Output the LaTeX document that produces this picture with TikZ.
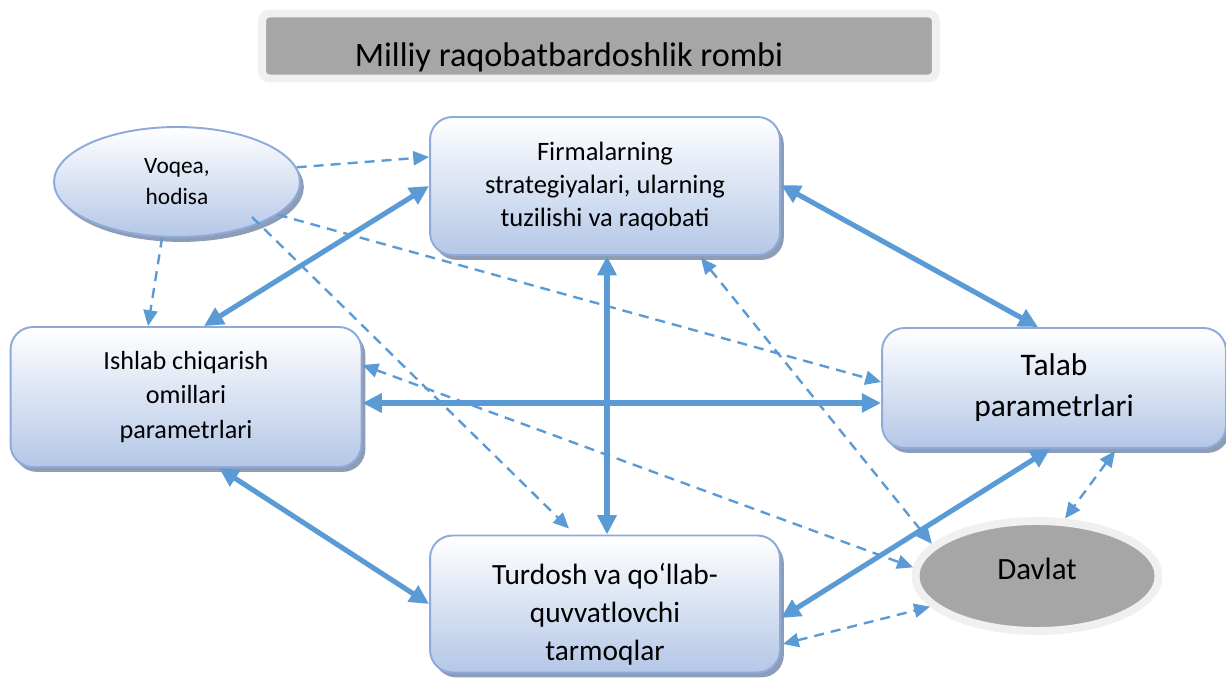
\documentclass[tikz,border=0pt]{standalone}
\usepackage{fontspec}
\setmainfont{Carlito}
\usetikzlibrary{arrows.meta,shapes.geometric,shadows,calc}
\definecolor{arrowblue}{HTML}{5B9BD5}
\definecolor{edgeblue}{HTML}{8EAADB}
\definecolor{fillblue}{HTML}{B4C7E7}
\definecolor{shadowgray}{HTML}{8E9DB6}
\definecolor{titlegray}{HTML}{A6A6A6}
\definecolor{ringgray}{HTML}{F0F0F0}

\begin{document}
\begin{tikzpicture}[x=0.02cm,y=-0.02cm,
  rbox/.style={draw=edgeblue,line width=1.1pt,rounded corners=0.45cm,top color=white,bottom color=fillblue,align=center,
    drop shadow={opacity=1,fill=shadowgray,shadow xshift=2.2pt,shadow yshift=-2.8pt}},
  oval/.style={ellipse,draw=edgeblue,line width=1.1pt,top color=white,bottom color=fillblue,align=center,
    drop shadow={opacity=1,fill=shadowgray,shadow xshift=2.2pt,shadow yshift=-2.8pt}},
  bigarrow/.style={arrowblue,line width=2.9pt,{Triangle[length=11pt,width=10.5pt]}-{Triangle[length=11pt,width=10.5pt]}},
  dasharrow/.style={arrowblue,line width=1.35pt,dash pattern=on 5.7pt off 4pt,-{Triangle[length=9pt,width=8pt]}},
  twodash/.style={dasharrow,{Triangle[length=9pt,width=8pt]}-{Triangle[length=9pt,width=8pt]}}]
  \useasboundingbox (0,0) rectangle (1226,679);

  \node[draw=ringgray,fill=titlegray,line width=4.5pt,rounded corners=0.15cm,minimum width=13.48cm,minimum height=1.3cm] (titlebar) at (599,46) {};
  \node[anchor=base,font=\fontsize{19.5}{24}\selectfont] (title) at (569,67) {Milliy raqobatbardoshlik rombi};

  \node[rbox,minimum width=7cm,minimum height=2.76cm,font=\fontsize{15.1}{18.8}\selectfont] (firma) at (605,186) {Firmalarning\\strategiyalari, ularning\\tuzilishi va raqobati};
  \node[rbox,minimum width=7.02cm,minimum height=2.8cm,font=\fontsize{14.9}{19.9}\selectfont] (ishlab) at (186,397) {Ishlab chiqarish\\omillari\\parametrlari};
  \node[rbox,minimum width=6.88cm,minimum height=2.4cm,font=\fontsize{17.9}{23.3}\selectfont] (talab) at (1054,388) {Talab\\parametrlari};
  \node[rbox,minimum width=7cm,minimum height=2.74cm,font=\fontsize{16.7}{21.6}\selectfont] (turdosh) at (605,604) {\rule{0pt}{24pt}Turdosh va qo‘llab-\\quvvatlovchi\\tarmoqlar};
  \node[oval,minimum width=4.92cm,minimum height=2.2cm,font=\fontsize{13.3}{17.6}\selectfont] (voqea) at (177,182) {Voqea,\\hodisa};
  \node[ellipse,fill=titlegray,draw=ringgray,line width=4.5pt,minimum width=4.86cm,minimum height=2.2cm,text depth=8pt,font=\fontsize{17.6}{21}\selectfont] (davlat) at (1037,576) {Davlat};

  \draw[bigarrow] ($(ishlab.north)+(18,0)$) -- (firma.west);
  \draw[bigarrow] ($(firma.east)+(0,-1)$) -- ($(talab.north)+(-16,0)$);
  \draw[bigarrow] ($(firma.south)+(2,0)$) -- ($(turdosh.north)+(2,0)$);
  \draw[bigarrow] ($(ishlab.east)+(0,6)$) -- ($(talab.west)+(0,15)$);
  \draw[bigarrow] ($(ishlab.south)+(33,0)$) -- (turdosh.west);
  \draw[bigarrow] ($(talab.south)+(-4,0)$) -- ($(turdosh.east)+(0,14)$);

  \draw[dasharrow] (voqea.7) -- ($(firma.west)+(0,-29)$);
  \draw[dasharrow] (voqea.255) -- ($(ishlab.north)+(-38,0)$);
  \draw[dasharrow] (voqea.342) -- ($(talab.west)+(0,-6)$);
  \draw[dasharrow] ($(voqea.center)+(75,35)$) -- ($(turdosh.north)+(-36,-6)$);
  \draw[twodash] ($(firma.south)+(96,2)$) -- (davlat.163);
  \draw[twodash] ($(ishlab.east)+(0,-32)$) -- (davlat.176);
  \draw[twodash] ($(talab.south)+(61,2)$) -- (davlat.64);
  \draw[twodash] ($(turdosh.east)+(2,40)$) -- (davlat.196);
\end{tikzpicture}
\end{document}
